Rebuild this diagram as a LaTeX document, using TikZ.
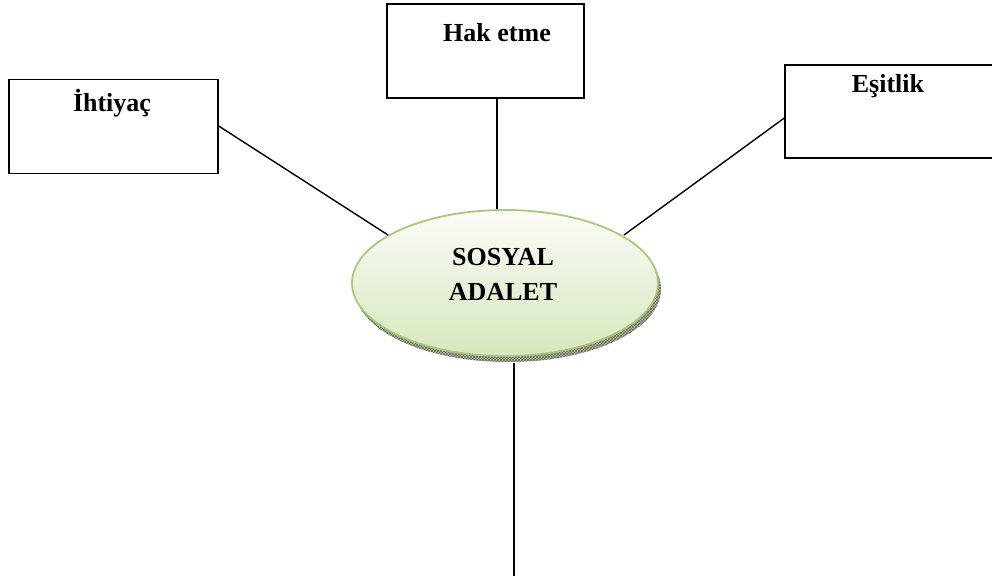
\documentclass[tikz,border=0pt]{standalone}
\usepackage{fontspec}
\setmainfont{Liberation Serif}
\usetikzlibrary{shapes.geometric,patterns}
\definecolor{elbord}{HTML}{A8C87E}
\definecolor{eltop}{HTML}{FBFCF8}
\definecolor{elbot}{HTML}{D6E7BC}
\definecolor{shad}{HTML}{B4B8A2}
\tikzset{
  box/.style={draw=black, line width=1.4pt, minimum width=209pt, minimum height=94pt, inner sep=0pt},
  lbl/.style={font=\fontsize{26}{35}\selectfont\bfseries, align=center},
  conn/.style={draw=black, line width=1.4pt},
}
\begin{document}
\begin{tikzpicture}[x=1pt,y=1pt]
\useasboundingbox (0,0) rectangle (992,576);
\clip (0,0) rectangle (992,576);
% boxes (y = 576 - pixel y)
\node[box, minimum width=209pt, minimum height=94pt] (ihtbox) at (113.5,449.5) {};
\node[box, minimum width=197pt, minimum height=94pt] (hakbox) at (485.5,525) {};
\node[box, minimum width=220pt, minimum height=93pt] (esbox) at (895,464.5) {};
\node[lbl, anchor=base] (ihttxt) at (112,464) {İhtiyaç};
\node[lbl, anchor=base] (haktxt) at (497,534) {Hak etme};
\node[lbl, anchor=base] (estxt) at (888,483) {Eşitlik};
% ellipse shadow
\node[ellipse, minimum width=306pt, minimum height=146pt, inner sep=0pt,
      fill=shad] (elshad) at (508,287) {};
\node[ellipse, minimum width=306pt, minimum height=146pt, inner sep=0pt,
      pattern=crosshatch, pattern color=shad!60!black] (elshad2) at (508,287) {};
% ellipse
\node[ellipse, minimum width=306pt, minimum height=146pt, inner sep=0pt,
      draw=elbord, line width=1.8pt, top color=eltop, bottom color=elbot] (el) at (505,293) {};
\node[lbl] (eltxt) at (503,302) {SOSYAL\\ADALET};
% connectors
\coordinate (ihtend) at (388,341);
\coordinate (esend) at (624,341);
\coordinate (bottomend) at (514,0);
\draw[conn] (ihtbox.east |- 0,450) -- (ihtend);
\draw[conn] (hakbox.south -| 497,0) -- (el.north -| 497,0);
\draw[conn] (esbox.west |- 0,458) -- (esend);
\draw[conn] (el.south -| 514,0) ++(0,-6) -- (bottomend);
\end{tikzpicture}
\end{document}
